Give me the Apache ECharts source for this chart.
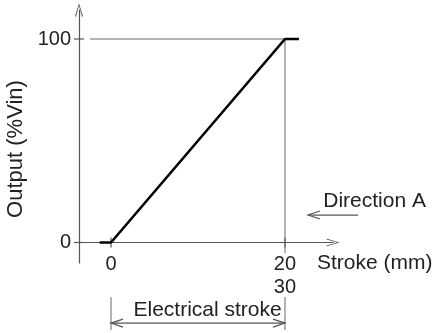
<!DOCTYPE html>
<html>
<head>
<meta charset="utf-8">
<script src="https://cdn.jsdelivr.net/npm/echarts@6/dist/echarts.min.js"></script>
<style>
  html, body { margin: 0; padding: 0; background: #fff; }
  #chart { width: 433px; height: 333px; }
</style>
</head>
<body>
<div id="chart"></div>
<script>
// output curve (stroke in mm, output in %Vin)
const strokeVals = [-1.3, 0, 20, 21.6]
const outputVals = [0, 0, 100, 100]

// ticks and labels
const xTicks = [0, 20]
const xTickLabels = { 0: '0', 20: '20\n30' }
const yTicks = [0, 100]

// thin guide lines [x1, y1, x2, y2]
const guideLines = [
  [-2.4, 100, 20, 100],
  [20, 100, 20, -5.2],
  [0, -26.8, 0, -43],
  [20, -26.8, 20, -43]
]
// arrows [x1, y1, x2, y2, headAtStart, headAtEnd]
const arrowLines = [
  [0, -39.6, 20, -39.6, 1, 1],
  [28.4, 13.5, 22.64, 13.5, 0, 1]
]
// notes [text, x, y]
const notes = [
  ['Electrical stroke', 11.1, -33.2],
  ['Direction A', 24.4, 20.4]
]

const xMin = -3.68, xMax = 25.52
const yMin = -10.07, yMax = 114.25
const font = 'Liberation Sans'
const inkColor = '#222'
const lineGray = '#555'
const chevron = 'path://M4,0 L8,13 L7,13.5 L4,2.5 L1,13.5 L0,13 Z'

const chart = echarts.init(document.getElementById('chart'))

function head(tip, from) {
  // open arrowhead at tip, pointing away from "from"
  const dx = tip[0] - from[0], dy = tip[1] - from[1]
  const len = Math.sqrt(dx * dx + dy * dy) || 1
  const ux = dx / len, uy = dy / len
  const L = 12, W = 4
  return {
    type: 'polyline',
    shape: { points: [
      [tip[0] - ux * L - uy * W, tip[1] - uy * L + ux * W],
      tip,
      [tip[0] - ux * L + uy * W, tip[1] - uy * L - ux * W]
    ] },
    style: { stroke: lineGray, lineWidth: 1.2, fill: null }
  }
}

const option = {
  animation: false,
  grid: { left: 79, right: 100, top: 10, bottom: 70, outerBoundsMode: 'none', containLabel: false },
  xAxis: {
    type: 'value',
    min: xMin,
    max: xMax,
    name: 'Stroke (mm)',
    nameLocation: 'end',
    nameGap: -16,
    nameTextStyle: { fontFamily: font, fontSize: 21, color: inkColor, verticalAlign: 'top', lineHeight: 42 },
    axisLine: {
      onZero: true,
      symbol: ['none', chevron],
      symbolSize: [8, 13],
      lineStyle: { color: lineGray, width: 1.2 }
    },
    axisTick: { show: false },
    splitLine: { show: false },
    axisLabel: {
      customValues: xTicks,
      margin: -10,
      fontFamily: font,
      fontSize: 20,
      lineHeight: 23,
      color: inkColor,
      formatter: v => xTickLabels[v]
    }
  },
  yAxis: {
    type: 'value',
    min: yMin,
    max: yMax,
    name: 'Output (%Vin)',
    nameLocation: 'middle',
    nameRotate: 90,
    nameGap: 47,
    nameTextStyle: { fontFamily: font, fontSize: 22, color: inkColor, padding: [0, 25, 0, 0] },
    axisLine: {
      onZero: false,
      symbol: ['none', chevron],
      symbolSize: [8, 15],
      lineStyle: { color: lineGray, width: 1.2 }
    },
    axisTick: { show: false },
    splitLine: { show: false },
    axisLabel: {
      customValues: yTicks,
      margin: 8,
      fontFamily: font,
      fontSize: 20,
      color: inkColor
    }
  },
  series: [
    {
      type: 'line',
      data: strokeVals.map((x, i) => [x, outputVals[i]]),
      symbol: 'none',
      clip: false,
      lineStyle: { color: '#000', width: 2.6 },
      z: 5
    },
    {
      // cross ticks on both axes
      type: 'custom',
      data: xTicks.map(v => [v, 0, 0]).concat(yTicks.map(v => [xMin, v, 1])),
      renderItem: (params, api) => {
        const p = api.coord([api.value(0), api.value(1)])
        const vertical = api.value(2) === 0
        return {
          type: 'line',
          shape: vertical
            ? { x1: p[0], y1: p[1] - 5, x2: p[0], y2: p[1] + 5 }
            : { x1: p[0] - 5, y1: p[1], x2: p[0] + 5, y2: p[1] },
          style: { stroke: lineGray, lineWidth: 1.2 }
        }
      }
    },
    {
      type: 'custom',
      data: guideLines,
      renderItem: (params, api) => {
        const a = api.coord([api.value(0), api.value(1)])
        const b = api.coord([api.value(2), api.value(3)])
        return {
          type: 'line',
          shape: { x1: a[0], y1: a[1], x2: b[0], y2: b[1] },
          style: { stroke: '#666', lineWidth: 1 }
        }
      }
    },
    {
      type: 'custom',
      data: arrowLines,
      renderItem: (params, api) => {
        const a = api.coord([api.value(0), api.value(1)])
        const b = api.coord([api.value(2), api.value(3)])
        const children = [{
          type: 'line',
          shape: { x1: a[0], y1: a[1], x2: b[0], y2: b[1] },
          style: { stroke: lineGray, lineWidth: 1.2 }
        }]
        if (api.value(4)) children.push(head(a, b))
        if (api.value(5)) children.push(head(b, a))
        return { type: 'group', children }
      }
    },
    {
      type: 'custom',
      data: notes.map(n => [n[1], n[2]]),
      renderItem: (params, api) => {
        const p = api.coord([api.value(0), api.value(1)])
        const n = notes[params.dataIndex]
        return {
          type: 'text',
          style: {
            text: n[0],
            x: p[0],
            y: p[1],
            fill: inkColor,
            fontFamily: font,
            fontSize: 21,
            align: params.dataIndex === 0 ? 'center' : 'left',
            verticalAlign: 'middle'
          }
        }
      }
    }
  ]
}

chart.setOption(option)
</script>
</body>
</html>
